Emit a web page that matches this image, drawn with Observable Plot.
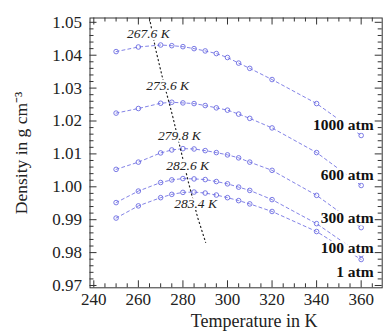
<!DOCTYPE html>
<html><head><meta charset="utf-8">
<script src="https://cdn.jsdelivr.net/npm/d3@7"></script>
<script src="https://cdn.jsdelivr.net/npm/@observablehq/plot@0.6"></script>
<style>body{margin:0;background:#fff;}</style>
</head><body><div id="chart"></div>
<script>
const temperatures = [250,260,270,275,280,285,290,295,300,305,310,320,340,360];
const pressures = ["1000 atm","600 atm","300 atm","100 atm","1 atm"];
const density1000 = [1.0411,1.0425,1.0431,1.0429,1.0426,1.0420,1.0413,1.0405,1.0393,1.0376,1.0360,1.0326,1.0253,1.0156];
const density600  = [1.0224,1.0238,1.0254,1.0257,1.0255,1.0253,1.0247,1.0240,1.0233,1.0221,1.0208,1.0179,1.0104,1.0004];
const density300  = [1.0053,1.0075,1.0103,1.0112,1.0116,1.0115,1.0110,1.0104,1.0097,1.0088,1.0075,1.0050,0.9974,0.9876];
const density100  = [0.9952,0.9987,1.0013,1.0021,1.0025,1.0024,1.0022,1.0016,1.0009,0.9999,0.9989,0.9961,0.9888,0.9794];
const density1    = [0.9905,0.9942,0.9967,0.9977,0.9983,0.9984,0.9981,0.9975,0.9967,0.9958,0.9948,0.9925,0.9864,0.9779];
const tmdLabels = ["267.6 K","273.6 K","279.8 K","282.6 K","283.4 K"];
const tmdValues = [267.6,273.6,279.8,282.6,283.4];
const tmdLineT = [265.0,267.7,270.8,275.3,282.5,286.6,290.2];
const tmdLineD = [1.0512,1.0420,1.0332,1.0217,1.0013,0.9907,0.9831];
const xTicks = [240,260,280,300,320,340,360];
const yTicks = [0.97,0.98,0.99,1.00,1.01,1.02,1.03,1.04,1.05];

const allDensities = [density1000,density600,density300,density100,density1];
const rows = [];
pressures.forEach((p,i)=>temperatures.forEach((T,j)=>rows.push({p, T, d: allDensities[i][j]})));
const tmdLine = tmdLineT.map((T,i)=>({T, d: tmdLineD[i]}));

const blue = "#6464e0";
const W = 387, H = 332, mL = 89.5, mR = 5.3, mT = 17.5, mB = 44.7;
const frameH = H - mT - mB, frameW = W - mL - mR;
const xMinor = d3.range(240, 370, 5).filter(v => v % 20 !== 0);
const yMinor = d3.range(0, 41).map(i => +(0.97 + i*0.002).toFixed(3)).filter(v => Math.round(v*1000) % 10 !== 0);

// label offsets (style)
const tmdDx = [-7, -1, -3, -1, 5];
const tmdDy = [-11.5, -16.5, -13, -13, 11.5];
const pDy = [-10.5, -10, -10, -7, 13];

const marks = [
  Plot.frame({stroke: "#333", strokeWidth: 1}),
  Plot.line(rows, {x: "T", y: "d", z: "p", stroke: blue, strokeWidth: 1, strokeDasharray: "3,3", strokeOpacity: 0.8}),
  Plot.dot(rows, {x: "T", y: "d", r: 2.3, stroke: blue, fill: "none", strokeWidth: 1, strokeOpacity: 0.85}),
  Plot.line(tmdLine, {x: "T", y: "d", stroke: "#222", strokeWidth: 1.2, strokeDasharray: "1.2,3"}),
];
tmdLabels.forEach((lab, i) => {
  const peak = d3.max(allDensities[i]);
  marks.push(Plot.text([{T: tmdValues[i], d: peak, lab}], {x: "T", y: "d", text: "lab", dx: tmdDx[i], dy: tmdDy[i],
    lineAnchor: "middle", textAnchor: "middle",
    fontStyle: "italic", fontSize: 13.5, fill: "#222", stroke: "white", strokeWidth: 4, paintOrder: "stroke"}));
});
pressures.forEach((p, i) => {
  const d360 = allDensities[i][temperatures.length - 1];
  marks.push(Plot.text([{T: 360, d: d360, p}], {x: "T", y: "d", text: "p", dx: 12.5, dy: pDy[i], textAnchor: "end",
    lineAnchor: "middle",
    fontWeight: "bold", fontSize: 15.5, fill: "#111", stroke: "white", strokeWidth: 5, paintOrder: "stroke"}));
});
marks.push(
  Plot.tickX(xTicks, {x: d => d, insetTop: frameH - 7, stroke: "#333"}),
  Plot.tickX(xTicks, {x: d => d, insetBottom: frameH - 7, stroke: "#333"}),
  Plot.tickX(xMinor, {x: d => d, insetTop: frameH - 4, stroke: "#333"}),
  Plot.tickX(xMinor, {x: d => d, insetBottom: frameH - 4, stroke: "#333"}),
  Plot.tickY(yTicks, {y: d => d, insetRight: frameW - 7, stroke: "#333"}),
  Plot.tickY(yTicks, {y: d => d, insetLeft: frameW - 7, stroke: "#333"}),
  Plot.tickY(yMinor, {y: d => d, insetRight: frameW - 4, stroke: "#333"}),
  Plot.tickY(yMinor, {y: d => d, insetLeft: frameW - 4, stroke: "#333"}),
  Plot.axisX({ticks: xTicks, tickSize: 0, tickPadding: 5, label: null, fontSize: 17}),
  Plot.axisY({ticks: yTicks, tickFormat: d3.format(".2f"), tickSize: 0, tickPadding: 8, label: null, fontSize: 17}),
  Plot.text(["Temperature in K"], {text: d => d, frameAnchor: "bottom", lineAnchor: "middle", textAnchor: "middle", dx: 18, dy: 33.5, fontSize: 18, fill: "#222"}),
  Plot.text(["Density in g cm⁻³"], {text: d => d, frameAnchor: "left", lineAnchor: "middle", textAnchor: "middle", dx: -68.5, rotate: -90, fontSize: 17.5, fill: "#222"})
);

const chart = Plot.plot({
  width: W, height: H,
  marginLeft: mL, marginRight: mR, marginTop: mT, marginBottom: mB,
  x: {domain: [238.29, 369.44]},
  y: {domain: [0.9693, 1.05131]},
  style: {fontFamily: "'Liberation Serif', 'Times New Roman', serif", fontSize: "17px", background: "white", color: "#222"},
  marks
});
document.getElementById("chart").appendChild(chart);
</script>
</body></html>
